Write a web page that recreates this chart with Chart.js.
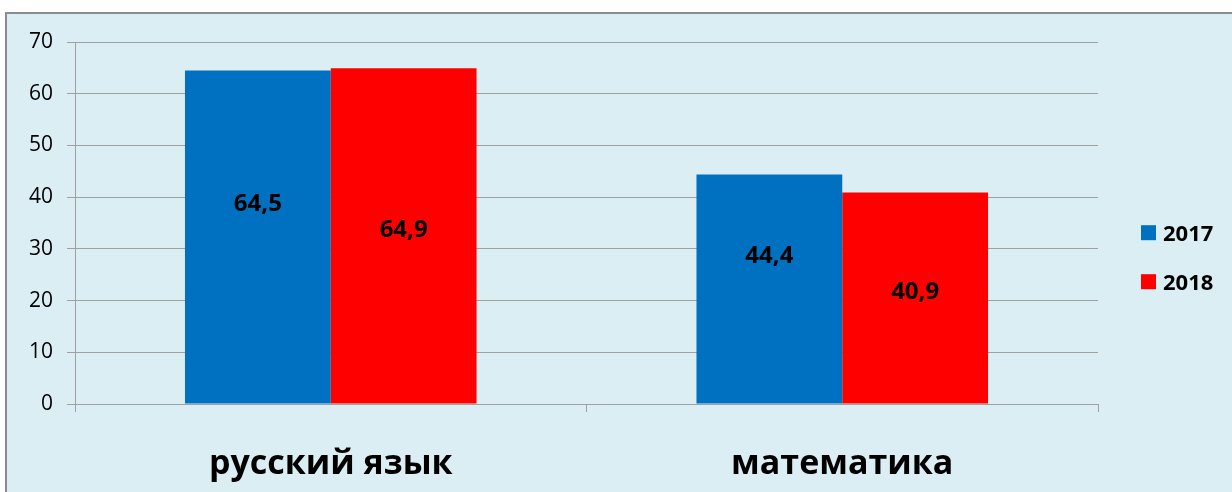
<!DOCTYPE html>
<html>
<head>
<meta charset="utf-8">
<script src="https://cdn.jsdelivr.net/npm/chart.js@4"></script>
<style>
  html, body { margin: 0; padding: 0; background: #ffffff; }
  body { width: 1232px; height: 492px; position: relative; overflow: hidden; }
  #frame {
    position: absolute; left: 5px; top: 12px; width: 1240px; height: 490px;
    background: #dbeef4; border: 2px solid #8c8c8c; box-sizing: border-box;
  }
  #wrap { position: absolute; left: 0; top: 0; width: 1232px; height: 492px; }
</style>
</head>
<body>
<div id="frame"></div>
<div id="wrap"><canvas id="chart" width="1232" height="492"></canvas></div>
<script>
var categories = ['русский язык', 'математика'];
var seriesNames = ['2017', '2018'];
var values2017 = [64.5, 44.4];
var values2018 = [64.9, 40.9];
var yTicks = [0, 10, 20, 30, 40, 50, 60, 70];

var FONT = "'Open Sans', 'DejaVu Sans', sans-serif";

// value labels inside bars, comma decimal
var barLabels = {
    id: 'barLabels',
    afterDatasetsDraw: function(chart) {
        var ctx = chart.ctx;
        ctx.save();
        ctx.font = 'bold 24px ' + FONT;
        ctx.fillStyle = '#000000';
        ctx.textAlign = 'center';
        ctx.textBaseline = 'middle';
        chart.data.datasets.forEach(function(ds, i) {
            var shift = ds.labelShift || 0;
            chart.getDatasetMeta(i).data.forEach(function(bar, j) {
                var y = (bar.y + bar.base) / 2 + shift;
                ctx.fillText(ds.data[j].toFixed(1).replace('.', ','), bar.x, y);
            });
        });
        ctx.restore();
    }
};

// legend on the right, vertically stacked
var sideLegend = {
    id: 'sideLegend',
    afterDraw: function(chart) {
        var ctx = chart.ctx;
        var area = chart.chartArea;
        var x = area.right + 43;
        var step = 49;
        var n = chart.data.datasets.length;
        var y0 = area.top + area.height * 0.6 - step * (n - 1) / 2;
        ctx.save();
        ctx.font = 'bold 22px ' + FONT;
        ctx.textAlign = 'left';
        ctx.textBaseline = 'middle';
        chart.data.datasets.forEach(function(ds, i) {
            var y = y0 + i * step;
            ctx.fillStyle = ds.backgroundColor;
            ctx.fillRect(x, y - 9.5, 15, 15);
            ctx.fillStyle = '#000000';
            ctx.fillText(ds.label, x + 22, y);
        });
        ctx.restore();
    }
};

new Chart(document.getElementById('chart').getContext('2d'), {
    type: 'bar',
    data: {
        labels: categories,
        datasets: [
            { label: seriesNames[0], data: values2017, backgroundColor: '#0070c0', labelShift: -33 },
            { label: seriesNames[1], data: values2018, backgroundColor: '#ff0000', labelShift: -6 }
        ]
    },
    options: {
        responsive: false,
        animation: false,
        events: [],
        layout: { padding: { top: 42, left: 5, right: 134, bottom: 0 } },
        datasets: {
            bar: { barPercentage: 1.0, categoryPercentage: 0.57 }
        },
        plugins: {
            legend: { display: false },
            tooltip: { enabled: false }
        },
        scales: {
            x: {
                grid: {
                    drawOnChartArea: false,
                    drawTicks: true,
                    tickLength: 8,
                    color: '#a0a0a0',
                    offset: true
                },
                border: { color: '#a0a0a0' },
                ticks: {
                    color: '#000000',
                    padding: 32,
                    font: { family: FONT, size: 34, weight: 'bold' }
                },
                afterFit: function(scale) { scale.height = 88; }
            },
            y: {
                min: 0,
                max: 70,
                afterBuildTicks: function(scale) {
                    scale.ticks = yTicks.map(function(v) { return { value: v }; });
                },
                grid: { color: '#a0a0a0', tickLength: 8 },
                border: { color: '#a0a0a0' },
                ticks: {
                    color: '#000000',
                    padding: 14,
                    font: { family: FONT, size: 21 }
                },
                afterFit: function(scale) { scale.width = 70; }
            }
        }
    },
    plugins: [barLabels, sideLegend]
});
</script>
</body>
</html>
